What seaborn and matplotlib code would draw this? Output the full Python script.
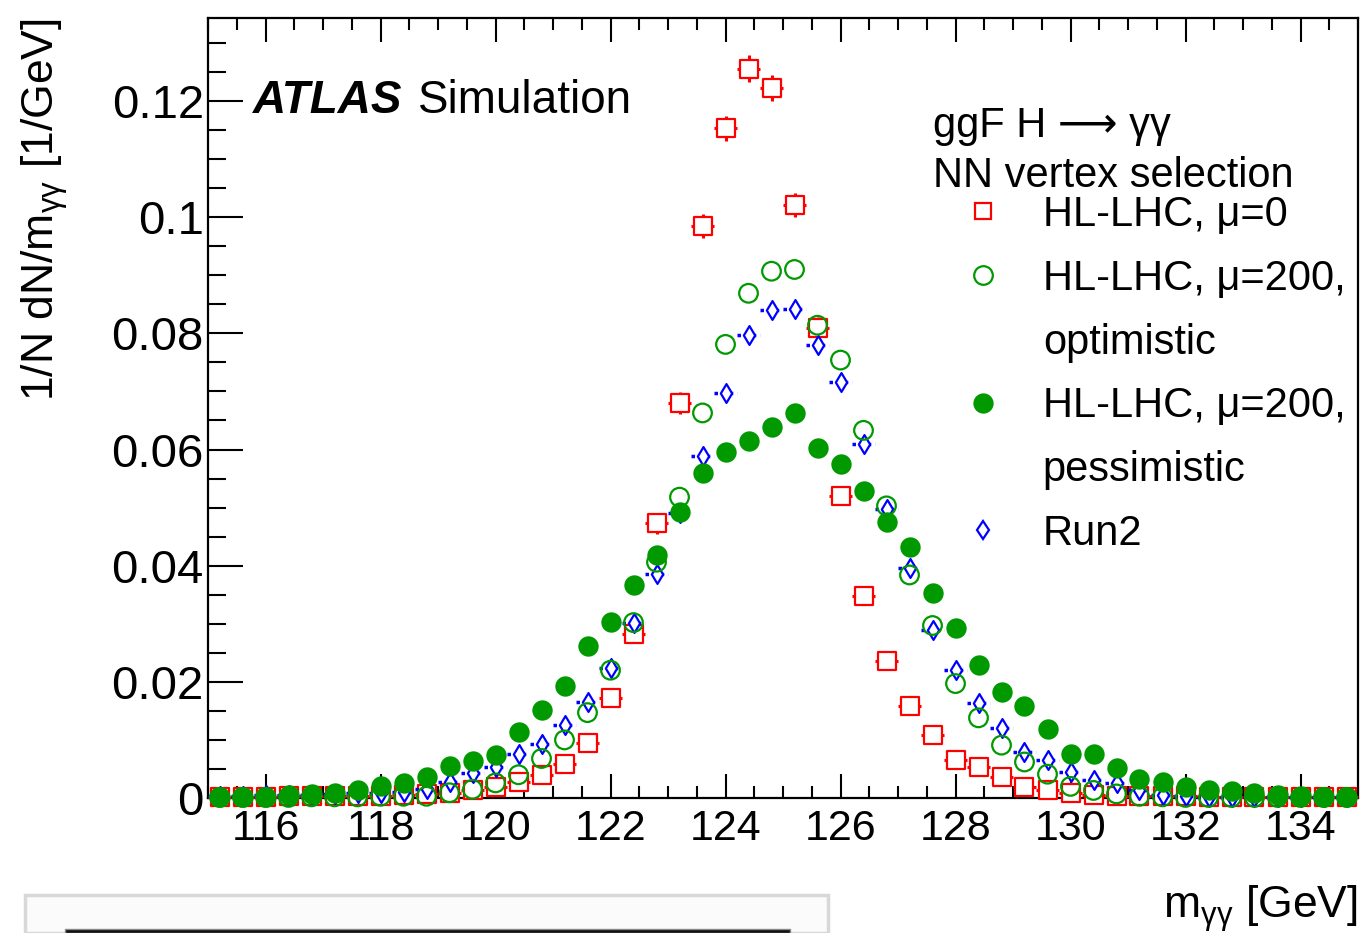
import numpy as np
import seaborn as sns
import matplotlib.pyplot as plt
from matplotlib.lines import Line2D
from matplotlib.patches import Rectangle
from matplotlib.ticker import MultipleLocator

# m_yy bin centres [GeV], bins of 0.4 GeV
m_yy = [115.2, 115.6, 116.0, 116.4, 116.8, 117.2, 117.6, 118.0, 118.4, 118.8,
        119.2, 119.6, 120.0, 120.4, 120.8, 121.2, 121.6, 122.0, 122.4, 122.8,
        123.2, 123.6, 124.0, 124.4, 124.8, 125.2, 125.6, 126.0, 126.4, 126.8,
        127.2, 127.6, 128.0, 128.4, 128.8, 129.2, 129.6, 130.0, 130.4, 130.8,
        131.2, 131.6, 132.0, 132.4, 132.8, 133.2, 133.6, 134.0, 134.4, 134.8]

# HL-LHC, mu=0
hllhc_mu0 = [0.0002, 0.0002, 0.0002, 0.0003, 0.0003, 0.0003, 0.0004, 0.0004, 0.0005, 0.0007,
             0.0009, 0.0013, 0.0019, 0.0027, 0.0040, 0.0058, 0.0095, 0.0173, 0.0283, 0.0473,
             0.0680, 0.0985, 0.1153, 0.1256, 0.1222, 0.1021, 0.0809, 0.0520, 0.0348, 0.0236,
             0.0158, 0.0108, 0.0066, 0.0054, 0.0036, 0.0019, 0.0013, 0.0009, 0.0005, 0.0004,
             0.0003, 0.0003, 0.0003, 0.0002, 0.0002, 0.0002, 0.0002, 0.0002, 0.0002, 0.0001]
hllhc_mu0_err = [0.0002, 0.0002, 0.0002, 0.0002, 0.0002, 0.0002, 0.0002, 0.0002, 0.0003, 0.0003,
                 0.0003, 0.0004, 0.0005, 0.0006, 0.0007, 0.0008, 0.0010, 0.0013, 0.0016, 0.0018,
                 0.0019, 0.0021, 0.0022, 0.0023, 0.0022, 0.0021, 0.0019, 0.0016, 0.0014, 0.0012,
                 0.0010, 0.0008, 0.0006, 0.0006, 0.0005, 0.0004, 0.0003, 0.0003, 0.0002, 0.0002,
                 0.0002, 0.0002, 0.0002, 0.0002, 0.0002, 0.0002, 0.0002, 0.0002, 0.0002, 0.0001]

# HL-LHC, mu=200, optimistic
hllhc_opt = [0.0001, 0.0001, 0.0001, 0.0001, 0.0002, 0.0002, 0.0002, 0.0003, 0.0003, 0.0003,
             0.0009, 0.0015, 0.0026, 0.0040, 0.0068, 0.0100, 0.0147, 0.0220, 0.0302, 0.0406,
             0.0518, 0.0663, 0.0781, 0.0869, 0.0907, 0.0910, 0.0814, 0.0754, 0.0633, 0.0503,
             0.0384, 0.0297, 0.0197, 0.0138, 0.0091, 0.0062, 0.0041, 0.0020, 0.0013, 0.0007,
             0.0003, 0.0002, 0.0001, 0.0001, 0.0001, 0.0001, 0.0001, 0.0001, 0.0001, 0.0001]

# HL-LHC, mu=200, pessimistic
hllhc_pes = [0.0001, 0.0002, 0.0002, 0.0005, 0.0007, 0.0009, 0.0014, 0.0021, 0.0026, 0.0036,
             0.0055, 0.0063, 0.0074, 0.0113, 0.0151, 0.0193, 0.0262, 0.0303, 0.0367, 0.0418,
             0.0492, 0.0559, 0.0596, 0.0614, 0.0639, 0.0663, 0.0602, 0.0575, 0.0528, 0.0475,
             0.0432, 0.0353, 0.0293, 0.0229, 0.0182, 0.0159, 0.0119, 0.0076, 0.0076, 0.0052,
             0.0033, 0.0028, 0.0019, 0.0014, 0.0012, 0.0009, 0.0005, 0.0003, 0.0002, 0.0002]

# Run2
run2 = [0.0003, 0.0004, 0.0005, 0.0005, 0.0006, 0.0007, 0.0008, 0.0009, 0.0011, 0.0015,
        0.0027, 0.0043, 0.0053, 0.0075, 0.0093, 0.0125, 0.0165, 0.0223, 0.0301, 0.0385,
        0.0491, 0.0589, 0.0697, 0.0797, 0.0841, 0.0842, 0.0780, 0.0716, 0.0609, 0.0497,
        0.0396, 0.0289, 0.0221, 0.0163, 0.0120, 0.0079, 0.0065, 0.0045, 0.0031, 0.0026,
        0.0014, 0.0006, 0.0003, 0.0002, 0.0002, 0.0002, 0.0002, 0.0002, 0.0001, 0.0001]

labels = ["HL-LHC, μ=0", "HL-LHC, μ=200,", "optimistic",
          "HL-LHC, μ=200,", "pessimistic", "Run2"]

RED, GREEN, BLUE = "#ff0000", "#009900", "#0000ff"
BIN_HALF = 0.2

sns.set_theme(style="ticks")
plt.rcParams['font.family'] = ['Liberation Sans', 'DejaVu Sans']
plt.rcParams['mathtext.fontset'] = 'custom'
plt.rcParams['mathtext.rm'] = 'Liberation Sans'
plt.rcParams['mathtext.default'] = 'regular'
plt.rcParams['text.color'] = 'black'
plt.rcParams['axes.labelcolor'] = 'black'

fig = plt.figure(figsize=(13.65, 9.33), dpi=100)
ax = fig.add_axes([208 / 1365, 135 / 933, 1150 / 1365, 780 / 933])

x = np.array(m_yy)

# HL-LHC mu=0: error bars + squares (white inside hides the bar under the marker)
ax.errorbar(x, hllhc_mu0, xerr=BIN_HALF, yerr=hllhc_mu0_err, fmt='none',
            ecolor=RED, elinewidth=2.2, zorder=2.6, clip_on=False)
sns.scatterplot(x=x, y=hllhc_mu0, ax=ax, marker='s', s=150, facecolor='white',
                edgecolor=RED, linewidth=1.6, zorder=2.7, clip_on=False)

# Run2: dotted horizontal bars + diamonds
eb = ax.errorbar(x, run2, xerr=BIN_HALF, fmt='none', ecolor=BLUE,
                 elinewidth=2.5, zorder=3.0, clip_on=False)
for lc in eb.lines[2]:
    lc.set_linestyle((0, (1, 1.2)))
sns.scatterplot(x=x, y=run2, ax=ax, marker='d', s=92, facecolor='white',
                edgecolor=BLUE, linewidth=1.6, zorder=3.1, clip_on=False)

# optimistic: open circles
sns.scatterplot(x=x, y=hllhc_opt, ax=ax, marker='o', s=180, facecolor='none',
                edgecolor=GREEN, linewidth=1.6, zorder=3.3, clip_on=False)

# pessimistic: filled circles
sns.scatterplot(x=x, y=hllhc_pes, ax=ax, marker='o', s=215, color=GREEN,
                edgecolor=GREEN, linewidth=0, zorder=3.5, clip_on=False)

ax.set_xlim(115, 135)
ax.set_ylim(0, 0.1343)
ax.xaxis.set_major_locator(MultipleLocator(2))
ax.xaxis.set_minor_locator(MultipleLocator(0.5))
ax.yaxis.set_minor_locator(MultipleLocator(0.005))
ax.set_yticks([0, 0.02, 0.04, 0.06, 0.08, 0.1, 0.12])
ax.set_yticklabels(["0", "0.02", "0.04", "0.06", "0.08", "0.1", "0.12"])
ax.set_xlabel("")
ax.set_ylabel("")

ax.tick_params(axis='both', which='both', direction='in', top=True, right=False,
               colors='black', width=1.5)
ax.tick_params(axis='x', which='major', length=17, pad=8, labelsize=31)
ax.tick_params(axis='x', which='minor', length=8.5)
ax.tick_params(axis='y', which='major', length=25, pad=3, labelsize=34)
ax.tick_params(axis='y', which='minor', length=13)
for spine in ax.spines.values():
    spine.set_visible(True)
    spine.set_linewidth(1.6)
    spine.set_color('black')

# axis titles (ROOT style: right / top aligned)
fig.text(1358 / 1365, 1 - 918 / 933, r"m$_{γγ}$ [GeV]", ha='right',
         va='baseline', fontsize=32)
fig.text(45 / 1365, 1 - 18 / 933, r"1/N dN/m$_{γγ}$ [1/GeV]", rotation=90,
         ha='center', va='top', fontsize=32)

# ATLAS label
ax.text(0.039, 0.878, "ATLAS", transform=ax.transAxes, fontsize=33,
        fontweight='bold', fontstyle='italic', va='baseline')
ax.text(0.1826, 0.878, "Simulation", transform=ax.transAxes, fontsize=33,
        va='baseline')

# legend header
ax.text(0.6304, 0.847, "ggF H ⟶ γγ", transform=ax.transAxes, fontsize=30,
        va='baseline')
ax.text(0.6304, 0.783, "NN vertex selection", transform=ax.transAxes,
        fontsize=30, va='baseline')

handles = [
    Line2D([], [], ls='none', marker='s', ms=12.2, mfc='none', mec=RED, mew=1.6),
    Line2D([], [], ls='none', marker='o', ms=13.4, mfc='none', mec=GREEN, mew=1.6),
    Line2D([], [], ls='none', marker=''),
    Line2D([], [], ls='none', marker='o', ms=14.6, mfc=GREEN, mec=GREEN, mew=0),
    Line2D([], [], ls='none', marker=''),
    Line2D([], [], ls='none', marker='d', ms=9.6, mfc='none', mec=BLUE, mew=1.6),
]
ax.legend(handles, labels, loc='upper left', bbox_to_anchor=(0.652, 0.773),
          frameon=False, fontsize=30, borderpad=0, borderaxespad=0,
          handlelength=1.2, handletextpad=0.84, labelspacing=0.57, numpoints=1)

# grey panel from the slide below the plot
fig.add_artist(Rectangle((25 / 1365, 0), 803 / 1365, 38 / 933,
                         transform=fig.transFigure, facecolor='#fbfbfb',
                         edgecolor='#d8d8d8', linewidth=2.5))
fig.add_artist(Rectangle((65 / 1365, 0), 725 / 1365, 4 / 933,
                         transform=fig.transFigure, facecolor='#111111',
                         edgecolor='#888888', linewidth=1))

fig.savefig("out.png", dpi=100)
